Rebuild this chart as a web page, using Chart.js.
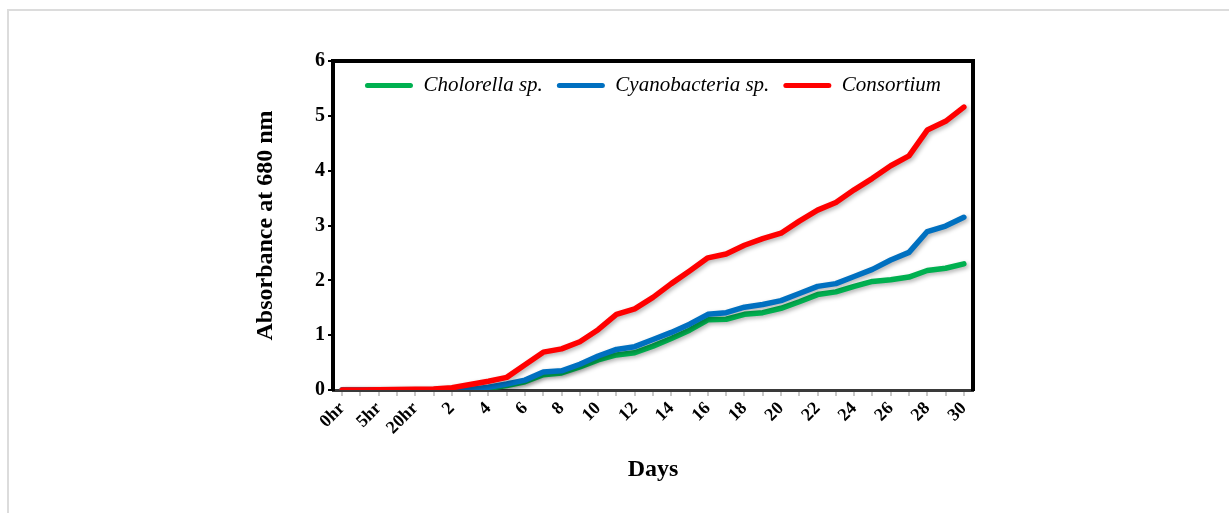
<!DOCTYPE html>
<html>
<head>
<meta charset="utf-8">
<script src="https://cdn.jsdelivr.net/npm/chart.js@4.4.1/dist/chart.umd.min.js"></script>
<style>
  html, body { margin: 0; padding: 0; background: #fff; }
  #frame { position: absolute; left: 7px; top: 9px; width: 1222px; height: 504px;
           border-top: 2px solid #dcdcdc; border-left: 2px solid #dcdcdc; box-sizing: border-box; }
  #chart { position: absolute; left: 0; top: 0; }
</style>
</head>
<body>
<div id="frame"></div>
<canvas id="chart" width="1229" height="513"></canvas>
<script>
// x categories: hours first, then days 1..30
const categories = ['0hr', '2hr', '5hr', '10hr', '20hr',
    '1', '2', '3', '4', '5', '6', '7', '8', '9', '10',
    '11', '12', '13', '14', '15', '16', '17', '18', '19', '20',
    '21', '22', '23', '24', '25', '26', '27', '28', '29', '30'];

const chlorella = [0, 0, 0, 0, 0, 0, 0, 0.005, 0.03, 0.08, 0.15, 0.28, 0.31, 0.42, 0.55,
    0.64, 0.68, 0.80, 0.94, 1.09, 1.28, 1.29, 1.38, 1.41, 1.49,
    1.61, 1.74, 1.79, 1.89, 1.98, 2.01, 2.06, 2.18, 2.22, 2.30];

const cyano = [0, 0, 0, 0, 0, 0, 0, 0.01, 0.05, 0.11, 0.18, 0.33, 0.35, 0.47, 0.62,
    0.74, 0.79, 0.92, 1.05, 1.20, 1.38, 1.41, 1.51, 1.56, 1.63,
    1.76, 1.89, 1.94, 2.07, 2.20, 2.37, 2.51, 2.89, 2.99, 3.15];

const consortium = [0, 0, 0.005, 0.01, 0.015, 0.02, 0.04, 0.10, 0.16, 0.23, 0.46, 0.69, 0.75, 0.88, 1.10,
    1.38, 1.48, 1.69, 1.94, 2.17, 2.41, 2.48, 2.64, 2.76, 2.86,
    3.08, 3.28, 3.42, 3.65, 3.86, 4.09, 4.27, 4.74, 4.90, 5.16];

const yTicks = [0, 1, 2, 3, 4, 5, 6];

const serif = '"Liberation Serif", "Times New Roman", serif';

// soft shadow under the lines, like the office chart
const lineShadow = {
    id: 'lineShadow',
    beforeDatasetsDraw(chart) {
        const ctx = chart.ctx;
        ctx.save();
        ctx.shadowColor = 'rgba(0,0,0,0.3)';
        ctx.shadowBlur = 4;
        ctx.shadowOffsetX = 2;
        ctx.shadowOffsetY = 2;
    },
    afterDatasetsDraw(chart) {
        chart.ctx.restore();
    }
};

// legend sits inside the plot: no height in the layout, real height back for drawing
const legendInside = {
    id: 'legendInside',
    beforeLayout(chart) {
        const lg = chart.legend;
        if (lg && !lg._inside) {
            const fit = lg.fit;
            lg.fit = function () { fit.call(this); this._realHeight = this.height; this.height = 0; };
            lg._inside = true;
        }
    },
    afterLayout(chart) {
        const lg = chart.legend;
        if (lg && lg._realHeight) {
            lg.height = lg._realHeight;
            lg.bottom = lg.top + lg.height;
        }
    }
};

// black box on top and right of the plot
const plotBox = {
    id: 'plotBox',
    afterDraw(chart) {
        const {ctx, chartArea: a} = chart;
        ctx.save();
        ctx.strokeStyle = '#000';
        ctx.lineWidth = 4;
        ctx.beginPath();
        ctx.moveTo(a.left - 2, a.top);
        ctx.lineTo(a.right, a.top);
        ctx.lineTo(a.right, a.bottom + 1);
        ctx.stroke();
        ctx.restore();
    }
};

const div = document.getElementById('chart');
const config = {
    type: 'line',
    data: {
        labels: categories,
        datasets: [
            { label: 'Cholorella sp.', data: chlorella, borderColor: '#00B050', backgroundColor: '#00B050', order: 3 },
            { label: 'Cyanobacteria sp.', data: cyano, borderColor: '#0070C0', backgroundColor: '#0070C0', order: 2 },
            { label: 'Consortium', data: consortium, borderColor: '#FF0000', backgroundColor: '#FF0000', order: 1 },
        ],
    },
    options: {
        responsive: false,
        animation: false,
        elements: {
            line: { borderWidth: 5.5, tension: 0, borderCapStyle: 'round', borderJoinStyle: 'round' },
            point: { radius: 0 },
        },
        layout: { padding: { left: 241, right: 256, top: 61, bottom: 23 } },
        plugins: {
            tooltip: { enabled: false },
            legend: {
                position: 'top',
                fullSize: false,
                align: 'center',
                labels: {
                    boxWidth: 48,
                    boxHeight: 5,
                    padding: 14,
                    color: '#000',
                    font: { family: serif, size: 21, style: 'italic' },
                    generateLabels(chart) {
                        const items = Chart.defaults.plugins.legend.labels.generateLabels(chart);
                        items.forEach(it => { it.lineWidth = 0; it.borderRadius = 2.5; });
                        return items.sort((a, b) => a.datasetIndex - b.datasetIndex);
                    },
                },
            },
        },
        scales: {
            x: {
                type: 'category',
                offset: true,
                afterFit(s) { s.height = 100; s.paddingLeft = 0; s.paddingRight = 0; },
                border: { color: '#3a3a3a', width: 3 },
                grid: { drawOnChartArea: false, drawTicks: true, tickLength: 6, color: '#c8c8c8', lineWidth: 2 },
                ticks: {
                    autoSkip: false,
                    maxRotation: 45,
                    minRotation: 45,
                    padding: 2,
                    color: '#000',
                    font: { family: serif, size: 18, weight: 'bold' },
                    callback: (v, i) => (i % 2 === 0 ? categories[i] : ''),
                },
                title: {
                    display: true,
                    text: 'Days',
                    color: '#000',
                    padding: { top: 0, bottom: 6 },
                    font: { family: serif, size: 24, weight: 'bold' },
                },
            },
            y: {
                min: 0,
                max: 6,
                afterFit(s) { s.width = 92; },
                afterBuildTicks(s) { s.ticks = yTicks.map(v => ({ value: v })); },
                border: { color: '#000', width: 4 },
                grid: { drawOnChartArea: false, drawTicks: true, tickLength: 5, color: '#000', lineWidth: 2 },
                ticks: {
                    padding: 3,
                    color: '#000',
                    font: { family: serif, size: 20, weight: 'bold' },
                },
                title: {
                    display: true,
                    text: 'Absorbance at 680 nm',
                    color: '#000',
                    padding: { top: 10, bottom: 0 },
                    font: { family: serif, size: 24, weight: 'bold' },
                },
            },
        },
    },
    plugins: [lineShadow, legendInside, plotBox],
};

new Chart(div, config);
</script>
</body>
</html>
